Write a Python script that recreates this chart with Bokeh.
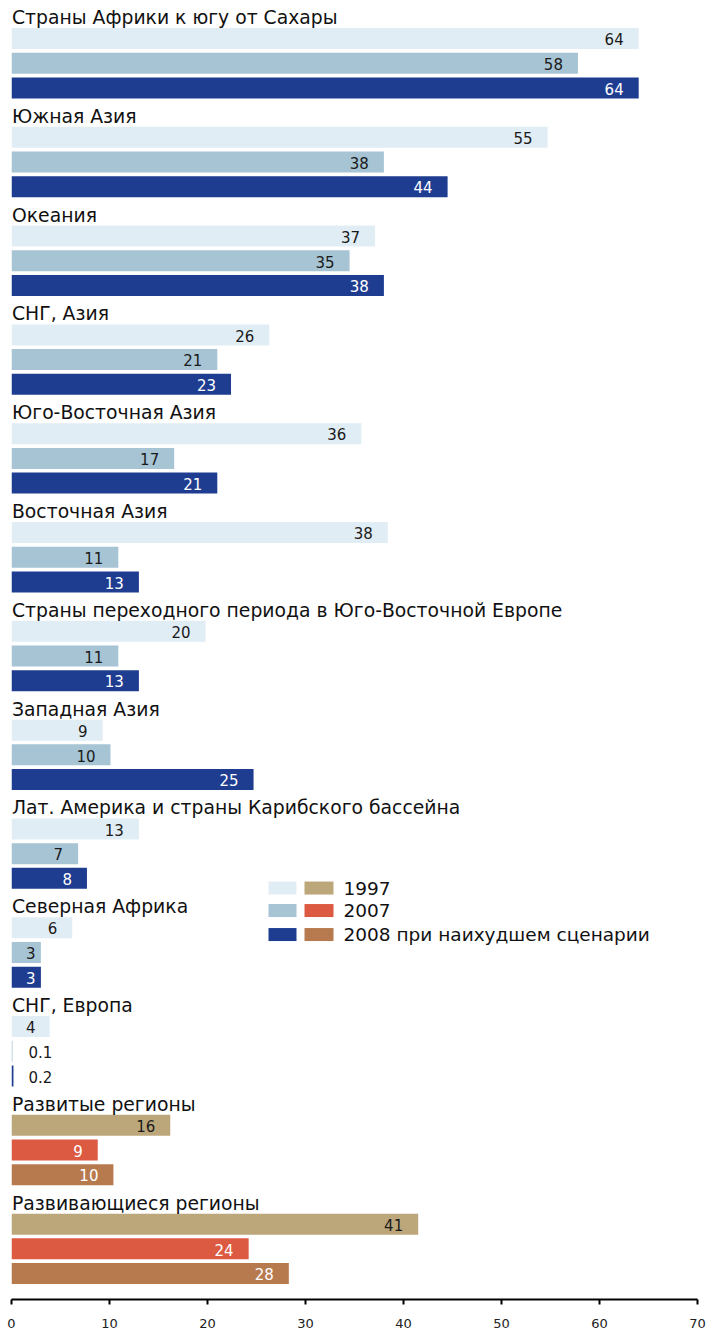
from bokeh.plotting import figure
from bokeh.models import Range1d, ColumnDataSource, Label, FixedTicker
from bokeh.core.properties import value
from bokeh.embed import file_html
from bokeh.resources import INLINE

# ---- data ----
regions = [
    "Страны Африки к югу от Сахары",
    "Южная Азия",
    "Океания",
    "СНГ, Азия",
    "Юго-Восточная Азия",
    "Восточная Азия",
    "Страны переходного периода в Юго-Восточной Европе",
    "Западная Азия",
    "Лат. Америка и страны Карибского бассейна",
    "Северная  Африка",
    "СНГ, Европа",
    "Развитые регионы",
    "Развивающиеся регионы",
]
v1997 = [64.0, 54.7, 37.1, 26.3, 35.7, 38.4, 19.8, 9.3, 13.0, 6.2, 3.9, 16.2, 41.5]
v2007 = [57.8, 38.0, 34.5, 21.0, 16.6, 10.9, 10.9, 10.1, 6.8, 3.0, 0.1, 8.8, 24.2]
v2008 = [64.0, 44.5, 38.0, 22.4, 21.0, 13.0, 13.0, 24.7, 7.7, 3.0, 0.2, 10.4, 28.3]
lab1997 = ["64", "55", "37", "26", "36", "38", "20", "9", "13", "6", "4", "16", "41"]
lab2007 = ["58", "38", "35", "21", "17", "11", "11", "10", "7", "3", "0.1", "9", "24"]
lab2008 = ["64", "44", "38", "23", "21", "13", "13", "25", "8", "3", "0.2", "10", "28"]
series_names = ["1997", "2007", "2008 при наихудшем сценарии"]
ticks = [0, 10, 20, 30, 40, 50, 60, 70]

blue_cols = ["#e1edf4", "#a6c4d4", "#1e3d91"]
warm_cols = ["#bca77b", "#dc5942", "#b77a4f"]
blue_txt = ["#1a1a1a", "#1a1a1a", "#ffffff"]
warm_txt = ["#1a1a1a", "#ffffff", "#ffffff"]
n_warm = 2  # last two groups use warm palette

# ---- figure ----
PX = 9.8     # px per unit x
PY = 24.7    # px per slot
Y0 = -0.2146

p = figure(width=706, height=1334, output_backend="svg", toolbar_location=None,
           title=None,
           x_range=Range1d(0, 70), y_range=Range1d(52.05, Y0),
           y_axis_type=None, min_border_left=11, min_border_right=9,
           min_border_top=8, min_border_bottom=35)
p.outline_line_color = None
p.xgrid.visible = False
p.ygrid.visible = False
p.background_fill_color = "white"
p.border_fill_color = "white"

FONT = "DejaVu Sans"
ng = len(regions)
series = [v1997, v2007, v2008]
labels = [lab1997, lab2007, lab2008]

for s in range(3):
    ys, rights, cols, lx, ltxt, lcol, lalign = [], [], [], [], [], [], []
    for g in range(ng):
        warm = g >= ng - n_warm
        val = series[s][g]
        y = g * 4 + 1 + s
        ys.append(y)
        rights.append(val)
        cols.append(warm_cols[s] if warm else blue_cols[s])
        if val < 1:
            lx.append(17.0 / PX)
            lalign.append("left")
            lcol.append("#1a1a1a")
        else:
            lx.append(max(val - 15.0 / PX, 24.0 / PX))
            lalign.append("right")
            lcol.append(warm_txt[s] if warm else blue_txt[s])
        ltxt.append(labels[s][g])
    src = ColumnDataSource(dict(y=ys, right=rights, color=cols))
    p.hbar(y="y", left=0, right="right", height=21.0 / PY, fill_color="color",
           line_color=None, source=src)
    lsrc = ColumnDataSource(dict(x=lx, y=[yy + 0.03 for yy in ys], t=ltxt, c=lcol, a=lalign))
    p.text(x="x", y="y", text="t", text_color="c", text_align="a",
           text_baseline="middle", text_font=value(FONT), text_font_size="15px",
           source=lsrc)

# region titles
tsrc = ColumnDataSource(dict(x=[0.05] * ng, y=[g * 4 + 0.15 for g in range(ng)], t=regions))
p.text(x="x", y="y", text="t", text_align="left", text_baseline="middle",
       text_font=value(FONT), text_font_size="18.8px", text_color="#111111", source=tsrc)

# legend (drawn manually: two swatches per row)
def dx(px):
    return (px - 11) / PX

def dy(py):
    return (py - 8) / PY + Y0

row_y = [887.5, 910.0, 934.0]
for i, name in enumerate(series_names):
    yc = dy(row_y[i])
    p.rect(x=[(dx(268) + dx(296)) / 2], y=[yc], width=dx(296) - dx(268),
           height=13.0 / PY, fill_color=blue_cols[i], line_color=None)
    p.rect(x=[(dx(304) + dx(333)) / 2], y=[yc], width=dx(333) - dx(304),
           height=13.0 / PY, fill_color=warm_cols[i], line_color=None)
    p.add_layout(Label(x=dx(343), y=yc, text=name, text_baseline="middle",
                       text_font=FONT, text_font_size="18.5px", text_color="#111111"))

# axis
ax = p.xaxis[0]
ax.ticker = FixedTicker(ticks=ticks)
ax.axis_line_color = "black"
ax.axis_line_width = 2
ax.major_tick_line_color = "black"
ax.major_tick_line_width = 2
ax.major_tick_in = 0
ax.major_tick_out = 5
ax.minor_tick_line_color = None
ax.major_label_standoff = 14
ax.major_label_text_font = FONT
ax.major_label_text_font_size = "13px"
ax.major_label_text_color = "#222222"

open("out.html", "w").write(file_html(p, INLINE))
